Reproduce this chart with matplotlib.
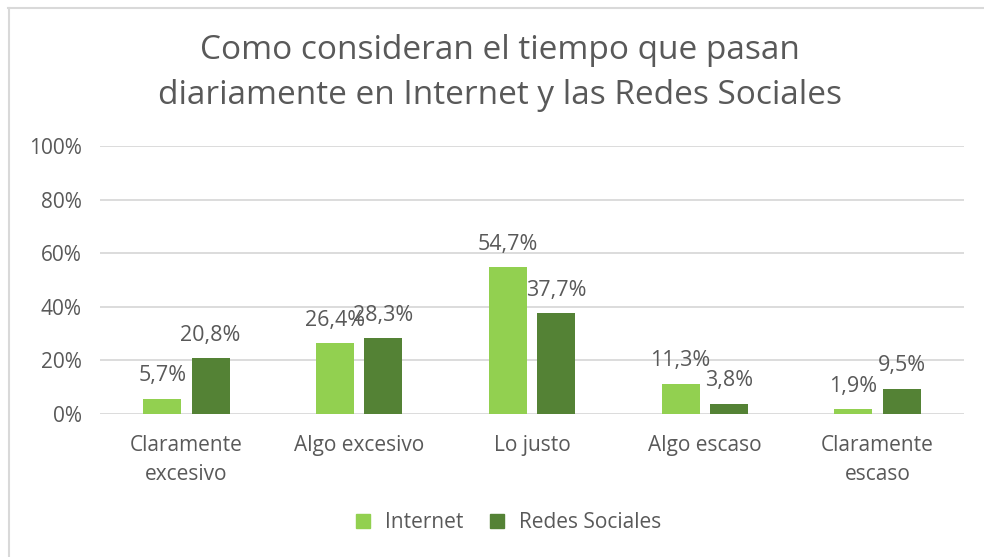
import matplotlib
matplotlib.use("Agg")
import matplotlib.pyplot as plt
from matplotlib.lines import Line2D
import numpy as np

categories = ["Claramente\nexcesivo", "Algo excesivo", "Lo justo", "Algo escaso", "Claramente\nescaso"]
internet = [5.7, 26.4, 54.7, 11.3, 1.9]
redes = [20.8, 28.3, 37.7, 3.8, 9.5]
series_names = ["Internet", "Redes Sociales"]
yticks = [0, 20, 40, 60, 80, 100]

GREEN_LIGHT = "#92D050"
GREEN_DARK = "#548235"
TEXT = "#595959"
FONT = "Open Sans"

plt.rcParams["font.family"] = [FONT, "DejaVu Sans"]

fig = plt.figure(figsize=(9.84, 5.57), dpi=100)
ax = fig.add_axes([100 / 984, 143 / 557, 864 / 984, 268 / 557])

x = np.arange(len(categories))
w = 0.22
off = 0.14
b1 = ax.bar(x - off, internet, w, color=GREEN_LIGHT, zorder=3)
b2 = ax.bar(x + off, redes, w, color=GREEN_DARK, zorder=3)

# data labels, as in the original (the 26,4% / 28,3% pair overlaps there too)
for bars, vals in ((b1, internet), (b2, redes)):
    for rect, v in zip(bars, vals):
        ax.annotate(f"{v:.1f}%".replace(".", ","),
                    (rect.get_x() + rect.get_width() / 2, rect.get_height()),
                    xytext=(0, 12.5), textcoords="offset points",
                    ha="center", va="baseline", fontsize=15.5, color=TEXT, zorder=4)

ax.set_xlim(-0.5, len(categories) - 0.5)
ax.set_ylim(0, 100)
ax.set_yticks(yticks)
ax.set_yticklabels([f"{t}%" for t in yticks])
ax.set_xticks(x)
ax.set_xticklabels(categories, linespacing=1.5)
ax.tick_params(axis="both", length=0, labelsize=15, labelcolor=TEXT)
ax.tick_params(axis="y", pad=13)
ax.tick_params(axis="x", pad=15)
ax.grid(axis="y", color="#D9D9D9", linewidth=1.3, zorder=0)
for s in ax.spines.values():
    s.set_visible(False)

fig.text(0.508, 1 - 73 / 557, "Como consideran el tiempo que pasan\ndiariamente en Internet y las Redes Sociales",
         ha="center", va="center", fontsize=24, color=TEXT, linespacing=1.45)

handles = [Line2D([], [], marker="s", linestyle="none", markersize=10, color=c)
           for c in (GREEN_LIGHT, GREEN_DARK)]
fig.legend(handles, series_names, loc="center", bbox_to_anchor=(0.51, 0.062),
           ncol=2, frameon=False, fontsize=15, labelcolor=TEXT,
           handletextpad=0.05, columnspacing=0.6)

# outer chart border (top and left visible in the crop)
fig.add_artist(Line2D([8 / 984, 1], [1 - 8 / 557, 1 - 8 / 557], color="#D9D9D9", lw=1.5))
fig.add_artist(Line2D([9 / 984, 9 / 984], [0, 1 - 8 / 557], color="#D9D9D9", lw=1.5))

fig.savefig("out.png", dpi=100)
